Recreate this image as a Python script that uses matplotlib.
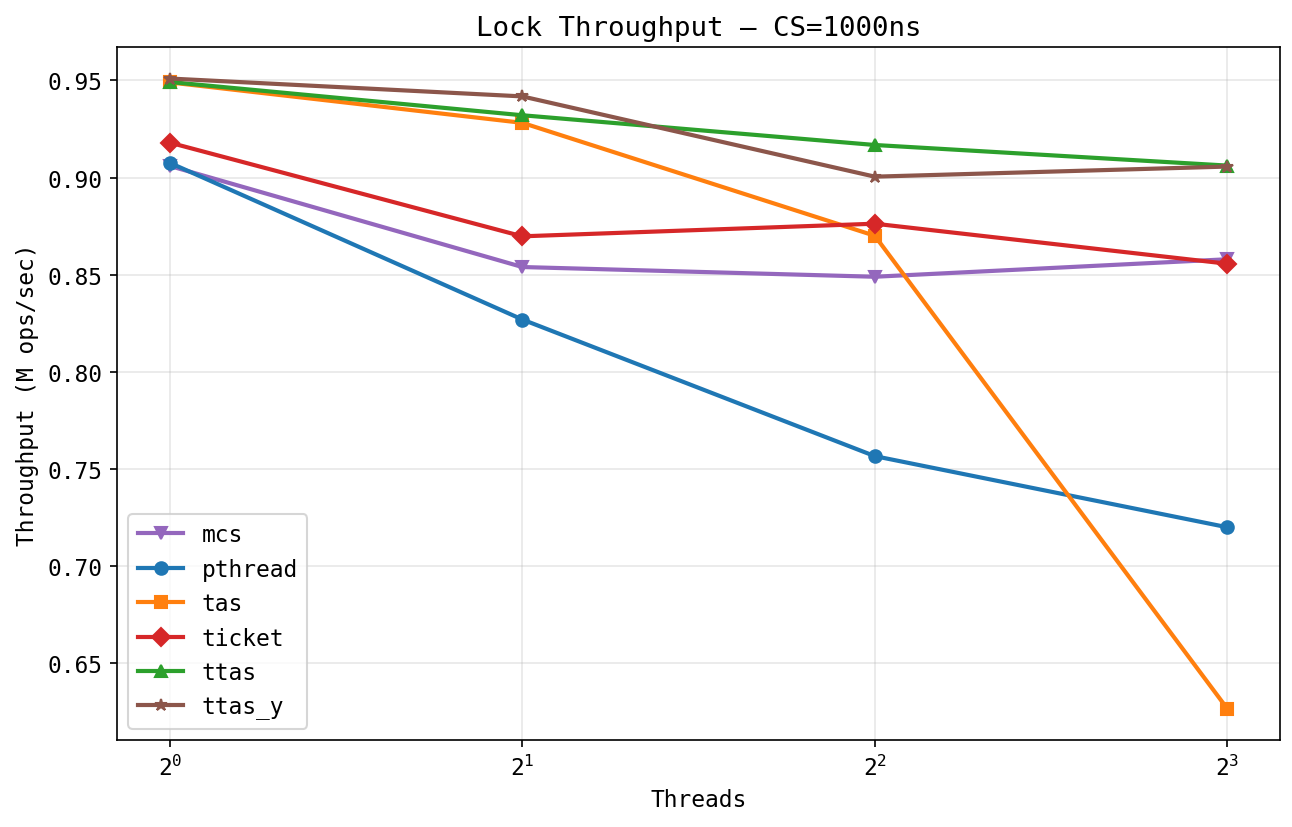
import matplotlib
matplotlib.use("Agg")
import matplotlib.pyplot as plt

plt.rcParams["font.family"] = ["DejaVu Sans Mono"]
plt.rcParams["font.size"] = 11

threads = [1, 2, 4, 8]
locks = ["mcs", "pthread", "tas", "ticket", "ttas", "ttas_y"]
throughput = {
    "mcs": [0.9060, 0.8540, 0.8490, 0.8580],
    "pthread": [0.9076, 0.8270, 0.7567, 0.7201],
    "tas": [0.9490, 0.9282, 0.8701, 0.6268],
    "ticket": [0.9180, 0.8698, 0.8763, 0.8557],
    "ttas": [0.9492, 0.9321, 0.9168, 0.9062],
    "ttas_y": [0.9510, 0.9418, 0.9005, 0.9057],
}
markers = {"mcs": "v", "pthread": "o", "tas": "s", "ticket": "D", "ttas": "^", "ttas_y": "*"}
colors = {"mcs": "tab:purple", "pthread": "tab:blue", "tas": "tab:orange",
          "ticket": "tab:red", "ttas": "tab:green", "ttas_y": "tab:brown"}

fig = plt.figure(figsize=(8.62, 5.52), dpi=150)
ax = fig.add_axes([0.0905, 0.105, 0.8995, 0.837])

for name in locks:
    ax.plot(threads, throughput[name], marker=markers[name], color=colors[name],
            linewidth=2, markersize=6, label=name)

ax.set_xscale("log", base=2)
ax.set_xticks(threads)
ax.set_xlabel("Threads")
ax.set_ylabel("Throughput (M ops/sec)")
ax.set_title("Lock Throughput — CS=1000ns")
ax.grid(True, alpha=0.3)
ax.legend(loc="lower left")

fig.savefig("out.png", dpi=150)
